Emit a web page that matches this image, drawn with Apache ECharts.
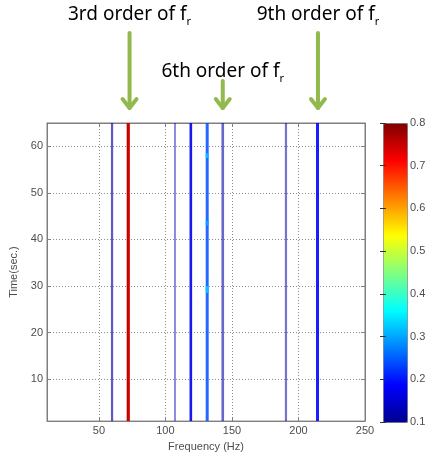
<!DOCTYPE html>
<html>
<head>
<meta charset="utf-8">
<script src="https://cdn.jsdelivr.net/npm/echarts@6/dist/echarts.min.js"></script>
<style>
  html, body { margin: 0; padding: 0; background: #fff; }
  #main { width: 436px; height: 457px; }
</style>
</head>
<body>
<div id="main"></div>
<script>
// spectral lines seen in the spectrogram (Hz) and their level
const lineFreq = [59.9, 71.5, 72.3, 107.2, 119.1, 131.4, 143.1, 190.6, 214.3];
const lineLevel = [0.12, 0.79, 0.74, 0.13, 0.17, 0.24, 0.12, 0.12, 0.19];
const timeRange = [1, 65];
// short brighter spots along some lines
const spotFreq = [131.4, 131.4, 131.4];
const spotStart = [28.5, 43.0, 57.5];
const spotEnd = [30.0, 44.0, 58.5];
const spotLevel = [0.33, 0.31, 0.33];
// harmonic annotations
const baseFreq = 23.85;
const orders = [3, 6, 9];
const orderNames = ['3rd', '6th', '9th'];
const colorTicks = [0.1, 0.2, 0.3, 0.4, 0.5, 0.6, 0.7, 0.8];

// drawing style per line (width px, opacity)
const lineWidthPx = [2.2, 1.6, 2.6, 2.0, 2.6, 3.0, 2.6, 2.2, 3.0];
const lineOpacity = [0.65, 1, 1, 0.45, 0.9, 0.85, 0.6, 0.55, 0.9];

const jet = ['#00008F', '#0000FF', '#0080FF', '#00FFFF', '#80FF80',
             '#FFFF00', '#FF8000', '#FF0000', '#800000'];

const lineData = lineFreq.map((f, i) => [f, timeRange[0], timeRange[1], lineLevel[i], i]);
spotFreq.forEach((f, i) => {
  const idx = lineFreq.indexOf(f);
  lineData.push([f, spotStart[i], spotEnd[i], spotLevel[i], idx]);
});

const chart = echarts.init(document.getElementById('main'));
const tickFont = { color: '#4d4d4d', fontSize: 11, fontFamily: 'Liberation Sans' };
const axisGray = '#7f7f7f';

const option = {
  animation: false,
  grid: [
    { left: 47, top: 123, width: 318, height: 299, show: true, borderColor: axisGray, borderWidth: 1 },
    { left: 383, top: 123, width: 24, height: 299 }
  ],
  xAxis: [
    {
      type: 'value', gridIndex: 0, min: 11, max: 250, splitNumber: 5,
      name: 'Frequency (Hz)', nameLocation: 'middle', nameGap: 16,
      nameTextStyle: tickFont,
      axisLine: { lineStyle: { color: axisGray } },
      axisTick: { inside: true, length: 4, lineStyle: { color: axisGray } },
      axisLabel: Object.assign({ margin: 4, showMinLabel: false }, tickFont),
      splitLine: { show: true, lineStyle: { color: '#8a8a8a', type: [1, 2] } }
    },
    {
      type: 'value', gridIndex: 0, position: 'top', min: 11, max: 250, splitNumber: 5,
      axisLine: { lineStyle: { color: axisGray } },
      axisTick: { inside: true, length: 4, lineStyle: { color: axisGray } },
      axisLabel: { show: false }, splitLine: { show: false }
    },
    { type: 'value', gridIndex: 1, show: false, min: 0, max: 1 }
  ],
  yAxis: [
    {
      type: 'value', gridIndex: 0, min: timeRange[0], max: timeRange[1], splitNumber: 6,
      name: 'Time(sec.)', nameLocation: 'middle', nameGap: 25, nameRotate: 90,
      nameTextStyle: tickFont,
      axisLine: { show: true, lineStyle: { color: axisGray } },
      axisTick: { show: true, inside: true, length: 4, lineStyle: { color: axisGray } },
      axisLabel: Object.assign({ margin: 4, showMinLabel: false, showMaxLabel: false }, tickFont),
      splitLine: { show: true, lineStyle: { color: '#8a8a8a', type: [1, 2] } }
    },
    {
      type: 'value', gridIndex: 0, position: 'right', min: timeRange[0], max: timeRange[1], splitNumber: 6,
      axisLine: { show: true, lineStyle: { color: axisGray } },
      axisTick: { show: true, inside: true, length: 4, lineStyle: { color: axisGray } },
      axisLabel: { show: false }, splitLine: { show: false }
    },
    {
      type: 'value', gridIndex: 1, position: 'right', min: 0.1, max: 0.8, interval: 0.1, z: 10,
      axisLine: { show: false },
      axisTick: { show: true, inside: true, length: 3, lineStyle: { color: '#333' } },
      axisLabel: Object.assign({ margin: 3, formatter: v => v.toFixed(1) }, tickFont),
      splitLine: { show: false }
    },
    {
      type: 'value', gridIndex: 1, position: 'left', min: 0.1, max: 0.8, interval: 0.1, z: 10,
      axisLine: { show: false },
      axisTick: { show: true, inside: true, length: 3, lineStyle: { color: '#333' } },
      axisLabel: { show: false }, splitLine: { show: false }
    }
  ],
  visualMap: {
    type: 'continuous', seriesIndex: 0, dimension: 3,
    min: colorTicks[0], max: colorTicks[colorTicks.length - 1],
    calculable: false, hoverLink: false, orient: 'vertical',
    left: 383, top: 123, itemWidth: 24, itemHeight: 299, padding: 0,
    borderColor: axisGray, borderWidth: 1,
    inRange: { color: jet }
  },
  series: [
    {
      type: 'custom', xAxisIndex: 0, yAxisIndex: 0,
      data: lineData,
      renderItem: (params, api) => {
        const f = api.value(0);
        const i = api.value(4);
        const top = api.coord([f, api.value(2)]);
        const bot = api.coord([f, api.value(1)]);
        const w = lineWidthPx[i];
        return {
          type: 'rect',
          shape: { x: top[0] - w / 2, y: top[1], width: w, height: bot[1] - top[1] },
          style: { fill: api.visual('color'), opacity: lineOpacity[i] }
        };
      }
    },
    {
      type: 'custom', xAxisIndex: 0, yAxisIndex: 0, clip: false, silent: true,
      data: orders.map((o, i) => [o * baseFreq, i]),
      renderItem: (params, api) => {
        const i = api.value(1);
        const p = api.coord([api.value(0), timeRange[1]]);
        const low = orders[i] === 6;
        const x = p[0] + (orders[i] === 3 ? 2 : 0);
        const tip = p[1] - 15;
        const start = p[1] - (low ? 42 : 90);
        const textY = p[1] - (low ? 51 : 108);
        const arrowStyle = { stroke: '#92b94e', lineWidth: 4, lineCap: 'round', lineJoin: 'round', fill: null };
        return {
          type: 'group',
          children: [
            { type: 'line', shape: { x1: x, y1: start, x2: x, y2: tip }, style: arrowStyle },
            { type: 'polyline', shape: { points: [[x - 7, tip - 9], [x, tip], [x + 7, tip - 9]] }, style: arrowStyle },
            {
              type: 'text',
              style: {
                x: x, y: textY, align: 'center', verticalAlign: 'middle',
                text: '{a|' + orderNames[i] + ' order of f}{b|r}',
                rich: {
                  a: { fontSize: 19, fontFamily: 'Noto Sans', color: '#222', lineHeight: 24 },
                  b: { fontSize: 11, fontFamily: 'Noto Sans', color: '#222', lineHeight: 8, verticalAlign: 'bottom' }
                }
              }
            }
          ]
        };
      }
    }
  ]
};

chart.setOption(option);
</script>
</body>
</html>
